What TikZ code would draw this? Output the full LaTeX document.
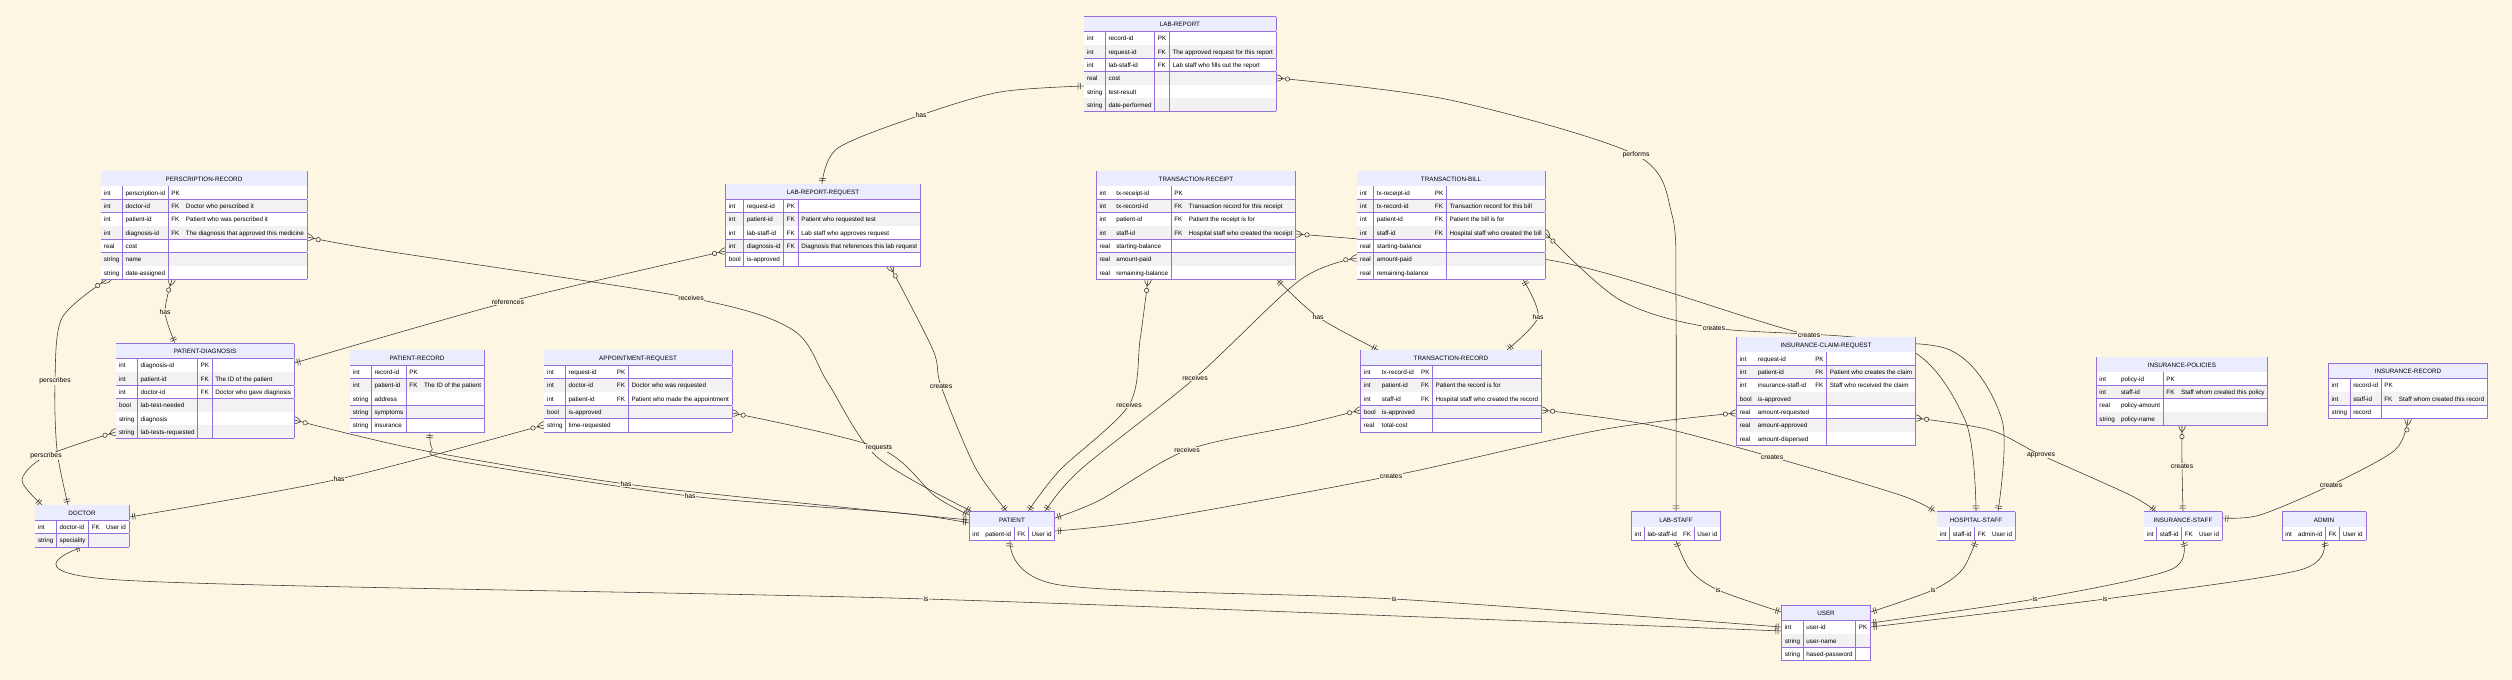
\PassOptionsToPackage{table}{xcolor}
\documentclass[tikz,border=0pt]{standalone}
\usepackage{fontspec}
\setmainfont{Liberation Sans}
\usetikzlibrary{arrows.meta}

\definecolor{bgc}{HTML}{FDF6E3}
\definecolor{erline}{HTML}{9370DB}
\definecolor{erhead}{HTML}{ECECFF}
\definecolor{ergray}{HTML}{F2F2F2}
\definecolor{edgec}{HTML}{333333}

\pgfdeclarelayer{backg}
\pgfdeclarelayer{edgelayer}
\pgfsetlayers{backg,edgelayer,main}

\arrayrulecolor{erline}
\setlength{\arrayrulewidth}{0.6pt}
\setlength{\tabcolsep}{2.8pt}
\renewcommand{\arraystretch}{1.67}

%linhas das tabelas
\newcommand{\attr}[4]{#1 & #2 & #3 & #4\\\hline}
\newcommand{\attrs}[3]{#1 & #2 & #3\\\hline}
\newcommand{\erentity}[5]{%
  \node[entity] (#1) at (#2) {\rowcolors{2}{ergray}{white}%
    \begin{tabular}{|*{#3}{l|}}\hline
      \rowcolor{erhead}\multicolumn{#3}{|c|}{\rule[-4.6pt]{0pt}{14.6pt}#4}\\\hline
      #5
    \end{tabular}};}

%pontas: um e so um / zero ou mais
\pgfdeclarearrow{
  name = ERone,
  setup code = {
    \pgfarrowssettipend{0pt}
    \pgfarrowssetlineend{0pt}
    \pgfarrowssetbackend{-6pt}
  },
  drawing code = {
    \pgfsetdash{}{0pt}
    \pgfpathmoveto{\pgfqpoint{-3.3pt}{-3.3pt}}
    \pgfpathlineto{\pgfqpoint{-3.3pt}{3.3pt}}
    \pgfpathmoveto{\pgfqpoint{-5.5pt}{-3.3pt}}
    \pgfpathlineto{\pgfqpoint{-5.5pt}{3.3pt}}
    \pgfusepathqstroke
  }
}
\pgfdeclarearrow{
  name = ERmany,
  setup code = {
    \pgfarrowssettipend{0pt}
    \pgfarrowssetlineend{0pt}
    \pgfarrowssetbackend{-14pt}
  },
  drawing code = {
    \pgfsetdash{}{0pt}
    \pgfpathmoveto{\pgfqpoint{-6.66pt}{0pt}}
    \pgfpathcurveto{\pgfqpoint{-2.22pt}{4.44pt}}{\pgfqpoint{2.22pt}{4.44pt}}{\pgfqpoint{6.66pt}{0pt}}
    \pgfpathcurveto{\pgfqpoint{2.22pt}{-4.44pt}}{\pgfqpoint{-2.22pt}{-4.44pt}}{\pgfqpoint{-6.66pt}{0pt}}
    \pgfusepathqstroke
    \pgfpathcircle{\pgfqpoint{-11.1pt}{0pt}}{2.2pt}
    \pgfsetfillcolor{bgc}
    \pgfusepathqfillstroke
  }
}

\tikzset{
  entity/.style={inner sep=0pt,outer sep=0pt,text=black,font=\fontsize{6.3}{7.6}\selectfont},
  elabel/.style={fill=bgc,inner sep=0.8pt,text=black,font=\fontsize{6.8}{8}\selectfont},
  rel/.style={draw=edgec,line width=0.55pt},
  oneone/.style={rel,ERone-ERone},
  manyone/.style={rel,ERmany-ERone},
  onemany/.style={rel,ERone-ERmany}
}

\begin{document}
\begin{tikzpicture}[x=1pt,y=-1pt]
  \useasboundingbox (0,0) rectangle (2512,680);
  \begin{pgfonlayer}{backg}
    \fill[bgc] (0,0) rectangle (2512,680);
  \end{pgfonlayer}

  %tabelas de cima
  \erentity{labrep}{1180,64}{4}{LAB-REPORT}{%
    \attr{int}{record-id}{PK}{}
    \attr{int}{request-id}{FK}{The approved request for this report}
    \attr{int}{lab-staff-id}{FK}{Lab staff who fills out the report}
    \attr{real}{cost}{}{}
    \attr{string}{test-result}{}{}
    \attr{string}{date-performed}{}{}}
  \erentity{presc}{204,225}{4}{PERSCRIPTION-RECORD}{%
    \attr{int}{perscription-id}{PK}{}
    \attr{int}{doctor-id}{FK}{Doctor who perscribed it}
    \attr{int}{patient-id}{FK}{Patient who was perscribed it}
    \attr{int}{diagnosis-id}{FK}{The diagnosis that approved this medicine}
    \attr{real}{cost}{}{}
    \attr{string}{name}{}{}
    \attr{string}{date-assigned}{}{}}
  \erentity{labreq}{823,225}{4}{LAB-REPORT-REQUEST}{%
    \attr{int}{request-id}{PK}{}
    \attr{int}{patient-id}{FK}{Patient who requested test}
    \attr{int}{lab-staff-id}{FK}{Lab staff who approves request}
    \attr{int}{diagnosis-id}{FK}{Diagnosis that references this lab request}
    \attr{bool}{is-approved}{}{}}
  \erentity{receipt}{1196,225}{4}{TRANSACTION-RECEIPT}{%
    \attr{int}{tx-receipt-id}{PK}{}
    \attr{int}{tx-record-id}{FK}{Transaction record for this receipt}
    \attr{int}{patient-id}{FK}{Patient the receipt is for}
    \attr{int}{staff-id}{FK}{Hospital staff who created the receipt}
    \attr{real}{starting-balance}{}{}
    \attr{real}{amount-paid}{}{}
    \attr{real}{remaining-balance}{}{}}
  \erentity{bill}{1451,225}{4}{TRANSACTION-BILL}{%
    \attr{int}{tx-receipt-id}{PK}{}
    \attr{int}{tx-record-id}{FK}{Transaction record for this bill}
    \attr{int}{patient-id}{FK}{Patient the bill is for}
    \attr{int}{staff-id}{FK}{Hospital staff who created the bill}
    \attr{real}{starting-balance}{}{}
    \attr{real}{amount-paid}{}{}
    \attr{real}{remaining-balance}{}{}}

  %tabelas do meio
  \erentity{diag}{205,391}{4}{PATIENT-DIAGNOSIS}{%
    \attr{int}{diagnosis-id}{PK}{}
    \attr{int}{patient-id}{FK}{The ID of the patient}
    \attr{int}{doctor-id}{FK}{Doctor who gave diagnosis}
    \attr{bool}{lab-test-needed}{}{}
    \attr{string}{diagnosis}{}{}
    \attr{string}{lab-tests-requested}{}{}}
  \erentity{precord}{417,391}{4}{PATIENT-RECORD}{%
    \attr{int}{record-id}{PK}{}
    \attr{int}{patient-id}{FK}{The ID of the patient}
    \attr{string}{address}{}{}
    \attr{string}{symptoms}{}{}
    \attr{string}{insurance}{}{}}
  \erentity{appt}{638,391}{4}{APPOINTMENT-REQUEST}{%
    \attr{int}{request-id}{PK}{}
    \attr{int}{doctor-id}{FK}{Doctor who was requested}
    \attr{int}{patient-id}{FK}{Patient who made the appointment}
    \attr{bool}{is-approved}{}{}
    \attr{string}{time-requested}{}{}}
  \erentity{txrec}{1451,391}{4}{TRANSACTION-RECORD}{%
    \attr{int}{tx-record-id}{PK}{}
    \attr{int}{patient-id}{FK}{Patient the record is for}
    \attr{int}{staff-id}{FK}{Hospital staff who created the record}
    \attr{bool}{is-approved}{}{}
    \attr{real}{total-cost}{}{}}
  \erentity{claim}{1826,391}{4}{INSURANCE-CLAIM-REQUEST}{%
    \attr{int}{request-id}{PK}{}
    \attr{int}{patient-id}{FK}{Patient who creates the claim}
    \attr{int}{insurance-staff-id}{FK}{Staff who received the claim}
    \attr{bool}{is-approved}{}{}
    \attr{real}{amount-requested}{}{}
    \attr{real}{amount-approved}{}{}
    \attr{real}{amount-dispersed}{}{}}
  \erentity{policies}{2182,391}{4}{INSURANCE-POLICIES}{%
    \attr{int}{policy-id}{PK}{}
    \attr{int}{staff-id}{FK}{Staff whom created this policy}
    \attr{real}{policy-amount}{}{}
    \attr{string}{policy-name}{}{}}
  \erentity{insrec}{2408,391}{4}{INSURANCE-RECORD}{%
    \attr{int}{record-id}{PK}{}
    \attr{int}{staff-id}{FK}{Staff whom created this record}
    \attr{string}{record}{}{}}

  %usuarios
  \erentity{doctor}{82,526}{4}{DOCTOR}{%
    \attr{int}{doctor-id}{FK}{User id}
    \attr{string}{speciality}{}{}}
  \erentity{patient}{1012,526}{4}{PATIENT}{%
    \attr{int}{patient-id}{FK}{User id}}
  \erentity{labstaff}{1676,526}{4}{LAB-STAFF}{%
    \attr{int}{lab-staff-id}{FK}{User id}}
  \erentity{hstaff}{1976,526}{4}{HOSPITAL-STAFF}{%
    \attr{int}{staff-id}{FK}{User id}}
  \erentity{istaff}{2183,526}{4}{INSURANCE-STAFF}{%
    \attr{int}{staff-id}{FK}{User id}}
  \erentity{admin}{2324,526}{4}{ADMIN}{%
    \attr{int}{admin-id}{FK}{User id}}
  \erentity{user}{1826,633}{3}{USER}{%
    \attrs{int}{user-id}{PK}
    \attrs{string}{user-name}{}
    \attrs{string}{hased-password}{}}

  %rotulos
  \node[elabel] (l1) at (921,115) {has};
  \node[elabel] (l2) at (1636,155) {performs};
  \node[elabel] (l3) at (508,302) {references};
  \node[elabel] (l4) at (691,298) {receives};
  \node[elabel] (l5) at (55,381) {perscribes};
  \node[elabel] (l6) at (46,456) {perscribes};
  \node[elabel] (l7) at (165,312) {has};
  \node[elabel] (l8) at (941,386) {creates};
  \node[elabel] (l9) at (626,484) {has};
  \node[elabel] (l10) at (690,496) {has};
  \node[elabel] (l11) at (339,479) {has};
  \node[elabel] (l12) at (879,448) {requests};
  \node[elabel] (l13) at (1129,405) {receives};
  \node[elabel] (l14) at (1195,378) {receives};
  \node[elabel] (l15) at (1318,317) {has};
  \node[elabel] (l16) at (1538,317) {has};
  \node[elabel] (l17) at (1187,450) {receives};
  \node[elabel] (l18) at (1772,457) {creates};
  \node[elabel] (l19) at (1391,476) {creates};
  \node[elabel] (l20) at (2041,455) {approves};
  \node[elabel] (l21) at (2182,466) {creates};
  \node[elabel] (l22) at (2331,485) {creates};
  \node[elabel] (l23) at (1809,335) {creates};
  \node[elabel] (l24) at (1714,328) {creates};
  \node[elabel] (l25) at (926,599) {is};
  \node[elabel] (l26) at (1394,599) {is};
  \node[elabel] (l27) at (1718,590) {is};
  \node[elabel] (l28) at (1933,590) {is};
  \node[elabel] (l29) at (2035,599) {is};
  \node[elabel] (l30) at (2105,599) {is};

  %relacoes
  \begin{pgfonlayer}{edgelayer}
    \draw[oneone] plot[smooth] coordinates {(labrep.west |- 0,86) (1000,92) (l1.center) (838,148) (822,0 |- labreq.north)};
    \draw[manyone] plot[smooth] coordinates {(labrep.east |- 0,78) (1450,100) (l2.center) (1672,215) (1676,300) (1676,0 |- labstaff.north)};
    \draw[onemany] plot[smooth] coordinates {(diag.east |- 0,363) (l3.center) (labreq.west |- 0,251)};
    \draw[manyone] plot[smooth] coordinates {(presc.east |- 0,237) (379,250) (l4.center) (793,330) (828,383) (877,457) (972,0 |- patient.north)};
    \draw[manyone] plot[smooth] coordinates {(107,0 |- presc.south) (62,318) (l5.center) (57,450) (68,0 |- doctor.north)};
    \draw[manyone] plot[smooth] coordinates {(diag.west |- 0,432) (l6.center) (22,480) (42,0 |- doctor.north)};
    \draw[manyone] plot[smooth] coordinates {(172,0 |- presc.south) (l7.center) (175,0 |- diag.north)};
    \draw[manyone] plot[smooth] coordinates {(890,0 |- labreq.south) (933,350) (l8.center) (975,467) (1007,0 |- patient.north)};
    \draw[manyone] plot[smooth] coordinates {(diag.east |- 0,420) (421,450) (l9.center) (850,508) (patient.west |- 0,520)};
    \draw[oneone] plot[smooth] coordinates {(430,0 |- precord.south) (432,448) (452,460) (l10.center) (900,513) (patient.west |- 0,523)};
    \draw[manyone] plot[smooth] coordinates {(appt.west |- 0,425) (l11.center) (doctor.east |- 0,517)};
    \draw[manyone] plot[smooth] coordinates {(appt.east |- 0,413) (l12.center) (935,496) (patient.west |- 0,515)};
    \draw[manyone] plot[smooth] coordinates {(1148,0 |- receipt.south) (1140,340) (l13.center) (1060,470) (1028,0 |- patient.north)};
    \draw[manyone] plot[smooth] coordinates {(bill.west |- 0,258) (1300,280) (l14.center) (1080,470) (1045,0 |- patient.north)};
    \draw[oneone] plot[smooth] coordinates {(1277,0 |- receipt.south) (l15.center) (1378,0 |- txrec.north)};
    \draw[oneone] plot[smooth] coordinates {(1523,0 |- bill.south) (l16.center) (1507,0 |- txrec.north)};
    \draw[manyone] plot[smooth] coordinates {(txrec.west |- 0,410) (1300,425) (l17.center) (1100,500) (patient.east |- 0,518)};
    \draw[manyone] plot[smooth] coordinates {(txrec.east |- 0,410) (1650,425) (l18.center) (1900,495) (1935,0 |- hstaff.north)};
    \draw[manyone] plot[smooth] coordinates {(claim.west |- 0,413) (1600,430) (l19.center) (1150,520) (patient.east |- 0,531)};
    \draw[manyone] plot[smooth] coordinates {(claim.east |- 0,418) (1990,430) (l20.center) (2130,495) (2156,0 |- istaff.north)};
    \draw[manyone] plot[smooth] coordinates {(2182,0 |- policies.south) (l21.center) (2183,0 |- istaff.north)};
    \draw[manyone] plot[smooth] coordinates {(2408,0 |- insrec.south) (2395,450) (l22.center) (2260,515) (istaff.east |- 0,518)};
    \draw[manyone] plot[smooth] coordinates {(receipt.east |- 0,234) (1560,262) (l23.center) (1950,350) (2002,420) (1998,0 |- hstaff.north)};
    \draw[manyone] plot[smooth] coordinates {(bill.east |- 0,233) (1620,300) (l24.center) (1900,345) (1965,420) (1976,0 |- hstaff.north)};
    %is
    \draw[oneone] plot[smooth] coordinates {(82,0 |- doctor.south) (120,580) (l25.center) (user.west |- 0,631)};
    \draw[oneone] plot[smooth] coordinates {(1010,0 |- patient.south) (1060,585) (l26.center) (user.west |- 0,627)};
    \draw[oneone] plot[smooth] coordinates {(1676,0 |- labstaff.south) (1690,570) (l27.center) (user.west |- 0,612)};
    \draw[oneone] plot[smooth] coordinates {(1976,0 |- hstaff.south) (1962,570) (l28.center) (user.east |- 0,612)};
    \draw[oneone] plot[smooth] coordinates {(2183,0 |- istaff.south) (2170,570) (l29.center) (user.east |- 0,623)};
    \draw[oneone] plot[smooth] coordinates {(2324,0 |- admin.south) (2300,570) (l30.center) (user.east |- 0,627)};
  \end{pgfonlayer}
\end{tikzpicture}
\end{document}
